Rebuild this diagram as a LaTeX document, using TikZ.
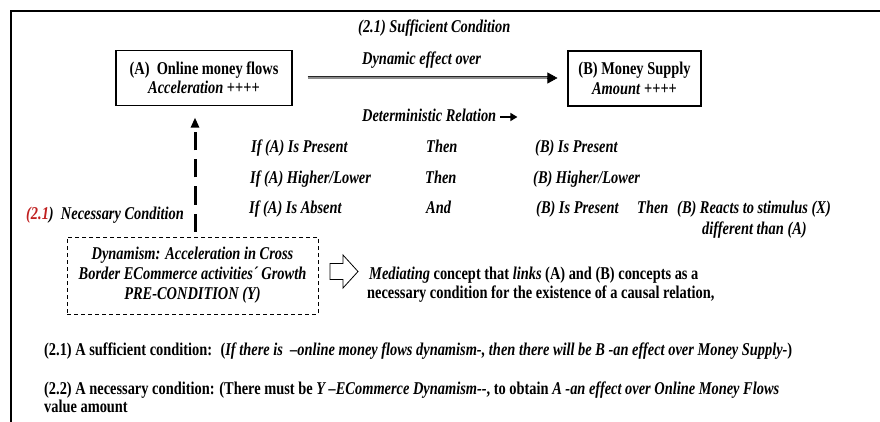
\documentclass[tikz,border=0pt]{standalone}
\usepackage{fontspec}
\setmainfont{Liberation Serif}[FakeStretch=0.8]
\usetikzlibrary{arrows.meta,calc}
\definecolor{necred}{RGB}{192,32,32}
\begin{document}
\begin{tikzpicture}[x=1pt,y=-1pt,
  every node/.style={font=\fontsize{18}{19.5}\selectfont\bfseries, inner sep=0pt},
  it/.style={font=\fontsize{18}{19.5}\selectfont\bfseries\itshape},
  txt/.style={anchor=base west},
  solidbox/.style={draw, line width=1.1pt, align=center},
  dashbox/.style={draw, line width=1pt, dash pattern=on 4pt off 3pt, align=center,
    font=\fontsize{18}{20}\selectfont\bfseries\itshape},
  dblline/.style={draw=black!85, line width=0.8pt, double=black!45, double distance=1.4pt},
  headtip/.style={line width=0.6pt, -{Triangle[length=10pt,width=11pt]}},
  smallarrow/.style={line width=1.6pt, -{Triangle[length=7pt,width=8pt]}},
  dasharrow/.style={line width=3pt, dash pattern=on 18pt off 9pt, -{Triangle[length=10pt,width=8pt]}},
  hollow/.style={draw, line width=0.8pt, line join=miter}
]
\useasboundingbox (0,0) rectangle (880,422);
% frame
\coordinate (fbl) at (11,422);
\coordinate (ftl) at (11,11);
\coordinate (ftr) at (880,11);
\draw[line width=1.3pt] (fbl) -- (ftl) -- (ftr);

% boxes
\node[solidbox, minimum width=176pt, minimum height=55pt] (A) at (204,78)
  {(A)~ Online money flows\\\textit{Acceleration} ++++};
\node[solidbox, minimum width=133pt, minimum height=55pt] (B) at (634.5,78.5)
  {(B) Money Supply\\\textit{Amount} ++++};

% double arrow A -> B
\coordinate (s) at ($(A.east)+(15,0)$);
\coordinate (t) at ($(s -| B.west)+(-10,0)$);
\coordinate (th) at ($(t)+(-10,0)$);
\draw[dblline, shorten >=9pt] (s) -- (t);
\draw[headtip] (th) -- (t);

% labels over the arrow
\node[txt,it] (suff) at (358,33) {(2.1) Sufficient Condition};
\node[txt,it] (dyn) at (362,65) {Dynamic effect over};
\node[txt,it] (det) at (362,122) {Deterministic Relation};
\coordinate (d1) at ($(det.base east)+(4,-5)$);
\coordinate (d2) at ($(d1)+(17,0)$);
\draw[smallarrow] (d1) -- (d2);

% rows
\node[txt,it] (r1a) at (251,153) {If (A) Is Present};
\node[txt,it] (r1b) at (426,153) {Then};
\node[txt,it] (r1c) at (535,153) {(B) Is Present};
\node[txt,it] (r2a) at (250,183) {If (A) Higher/Lower};
\node[txt,it] (r2b) at (425,183) {Then};
\node[txt,it] (r2c) at (533,183) {(B) Higher/Lower};
\node[txt,it] (r3a) at (249,213) {If (A) Is Absent};
\node[txt,it] (r3b) at (426,213) {And};
\node[txt,it] (r3c) at (536,213) {(B) Is Present};
\node[txt,it] (r3d) at (637,213) {Then};
\node[txt,it] (r3e) at (677,213) {(B) Reacts to stimulus (X)};
\node[txt,it] (r3f) at (702,234) {different than (A)};

% necessary condition
\node[txt,it] (nec) at (26,219) {\textcolor{necred}{(2.1}) ~Necessary Condition};

% dashed box
\node[dashbox, minimum width=251pt, minimum height=77pt] (Y) at (192.5,275.5)
  {Dynamism: Acceleration in Cross\\Border ECommerce activities´ Growth\\PRE-CONDITION (Y)};
\draw[dasharrow] ($(Y.north)+(2.5,-5)$) -- ($(A.south)+(-9,11.5)$);

% hollow arrow
\draw[hollow] (330,263.5) -- (343,263.5) -- (343,255) -- (358,271.5) -- (343,288) -- (343,279.5) -- (330,279.5) -- cycle;

% mediating text
\node[txt] (m1) at (369,279) {\textit{Mediating} concept that \textit{links} (A) and (B) concepts as a};
\node[txt] (m2) at (367,298) {necessary condition for the existence of a causal relation,};

% bottom text
\node[txt] (b1) at (44,355) {(2.1) A sufficient condition: ~(\textit{If there is ~–online money flows dynamism-, then there will be B -an effect over Money Supply-})};
\node[txt] (b2) at (44,394) {(2.2) A necessary condition: (There must be \textit{Y –ECommerce Dynamism-{}-}, to obtain \textit{A -an effect over Online Money Flows}};
\node[txt] (b3) at (44,412) {value amount};
\end{tikzpicture}
\end{document}
